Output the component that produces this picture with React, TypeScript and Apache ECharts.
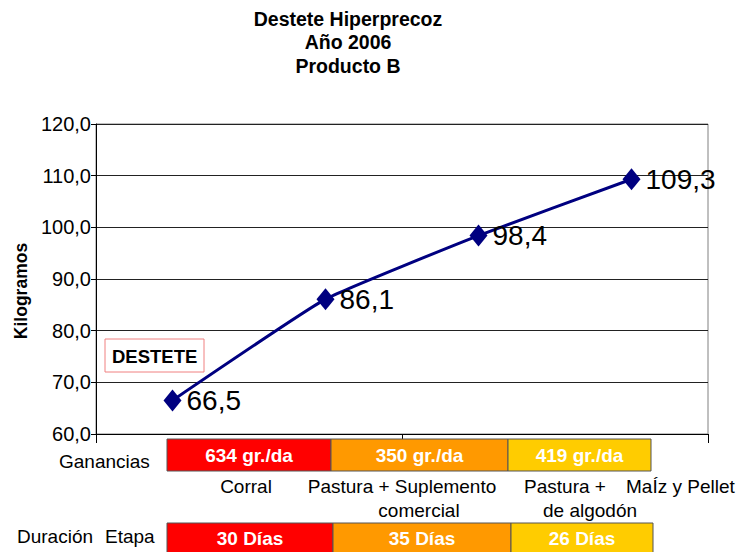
import React, { useEffect, useRef } from "react";
import * as echarts from "echarts";

// ---- data ----
const categories = ["Destete", "Corral", "Pastura + Suplemento comercial", "Pastura + MaÍz y Pellet de algodón"];
const weights = [66.5, 86.1, 98.4, 109.3];
const titleLines = ["Destete Hiperprecoz", "Año 2006", "Producto B"];
const yMin = 60;
const yMax = 120;
const yInterval = 10;
const gains = ["634 gr./da", "350 gr./da", "419 gr./da"];
const durations = ["30 Días", "35 Días", "26 Días"];
const stageColors = ["#FF0000", "#FF9900", "#FFCC00"];
const stageRow1 = ["Corral", "Pastura + Suplemento", "Pastura +", "MaÍz y Pellet"];
const stageRow2 = ["comercial", "de algodón"];
const yAxisName = "Kilogramos";
const markerText = "DESTETE";
const gainsLabel = "Ganancias";
const durationLabel = ["Duración", "Etapa"];

const FONT = "'Liberation Sans', Arial, Helvetica, sans-serif";

const fmt = (v: number) => v.toFixed(1).replace(".", ",");

export default function App() {
  const ref = useRef<HTMLDivElement>(null);

  useEffect(() => {
    if (!ref.current) return;
    const chart = echarts.init(ref.current, undefined, { renderer: "svg" });

    const gainBoxes = [
      [167, 331],
      [331, 508],
      [508, 651],
    ];
    const durBoxes = [
      [167, 333],
      [333, 511],
      [511, 653],
    ];

    const graphic: any[] = [];
    const txt = (text: string, x: number, y: number, opts: any = {}) => ({
      type: "text",
      x,
      y,
      silent: true,
      style: {
        text,
        fill: opts.fill || "#000",
        font: opts.font || `19px ${FONT}`,
        align: opts.align || "left",
        verticalAlign: "middle",
      },
      z: 10,
    });

    gains.forEach((g, i) => {
      const [a, b] = gainBoxes[i];
      graphic.push({
        type: "rect",
        shape: { x: a, y: 439, width: b - a, height: 32 },
        style: { fill: stageColors[i], stroke: "#555", lineWidth: 1 },
        silent: true,
        z: 5,
      });
      graphic.push(txt(g, (a + b) / 2, 455, { fill: "#fff", font: `bold 19px ${FONT}`, align: "center" }));
    });
    durations.forEach((d, i) => {
      const [a, b] = durBoxes[i];
      graphic.push({
        type: "rect",
        shape: { x: a, y: 523, width: b - a, height: 32 },
        style: { fill: stageColors[i], stroke: "#555", lineWidth: 1 },
        silent: true,
        z: 5,
      });
      graphic.push(txt(d, (a + b) / 2, 538, { fill: "#fff", font: `bold 19px ${FONT}`, align: "center" }));
    });

    graphic.push(txt(gainsLabel, 59, 461.5));
    graphic.push(txt(durationLabel[0], 17, 536.5));
    graphic.push(txt(durationLabel[1], 105, 536.5));

    graphic.push(txt(stageRow1[0], 246, 486.5, { align: "center" }));
    graphic.push(txt(stageRow1[1], 402, 486.5, { align: "center" }));
    graphic.push(txt(stageRow1[2], 565, 486.5, { align: "center" }));
    graphic.push(txt(stageRow1[3], 626, 486.5));
    graphic.push(txt(stageRow2[0], 419, 510.5, { align: "center" }));
    graphic.push(txt(stageRow2[1], 590, 510.5, { align: "center" }));

    graphic.push({
      type: "rect",
      shape: { x: 105, y: 339, width: 99, height: 33 },
      style: { fill: "#fff", stroke: "#F08080", lineWidth: 1 },
      silent: true,
      z: 5,
    });
    graphic.push(txt(markerText, 112, 356, { font: `bold 18.5px ${FONT}` }));

    graphic.push({
      type: "text",
      x: 21,
      y: 291,
      rotation: Math.PI / 2,
      silent: true,
      style: {
        text: yAxisName,
        fill: "#000",
        font: `bold 17.5px ${FONT}`,
        align: "center",
        verticalAlign: "middle",
      },
      z: 10,
    });

    chart.setOption({
      animation: false,
      backgroundColor: "#fff",
      title: {
        text: titleLines.join("\n"),
        left: 348,
        top: 7,
        padding: 0,
        textAlign: "center",
        textStyle: {
          fontFamily: FONT,
          fontSize: 19.5,
          fontWeight: "bold",
          color: "#000",
          lineHeight: 23.5,
        },
      },
      grid: {
        left: 96,
        right: 33,
        top: 124,
        bottom: 118,
        show: true,
        borderColor: "#808080",
        borderWidth: 1,
        backgroundColor: "transparent",
      },
      xAxis: {
        type: "category",
        data: categories,
        boundaryGap: true,
        axisLine: { lineStyle: { color: "#000", width: 1 } },
        axisTick: { show: true, length: 9, lineStyle: { color: "#000" } },
        axisLabel: { show: false },
        splitLine: { show: false },
      },
      yAxis: {
        type: "value",
        min: yMin,
        max: yMax,
        interval: yInterval,
        axisLine: { show: true, lineStyle: { color: "#000", width: 1 } },
        axisTick: { show: true, length: 5, lineStyle: { color: "#000" } },
        axisLabel: {
          color: "#000",
          fontFamily: FONT,
          fontSize: 20,
          margin: 5,
          formatter: (v: number) => fmt(v),
        },
        splitLine: { show: true, lineStyle: { color: "#222", width: 1 } },
      },
      series: [
        {
          type: "line",
          data: weights,
          smooth: 0.12,
          symbol: "diamond",
          symbolSize: [18, 22],
          itemStyle: { color: "#000080" },
          lineStyle: { color: "#000080", width: 3 },
          label: {
            show: true,
            position: "right",
            distance: 5,
            color: "#000",
            fontFamily: FONT,
            fontSize: 28,
            formatter: (p: any) => fmt(p.value),
          },
          z: 3,
        },
      ],
      graphic,
    });

    return () => chart.dispose();
  }, []);

  return (
    <div
      ref={ref}
      style={{ position: "fixed", left: 0, top: 0, width: 741, height: 552 }}
    />
  );
}
